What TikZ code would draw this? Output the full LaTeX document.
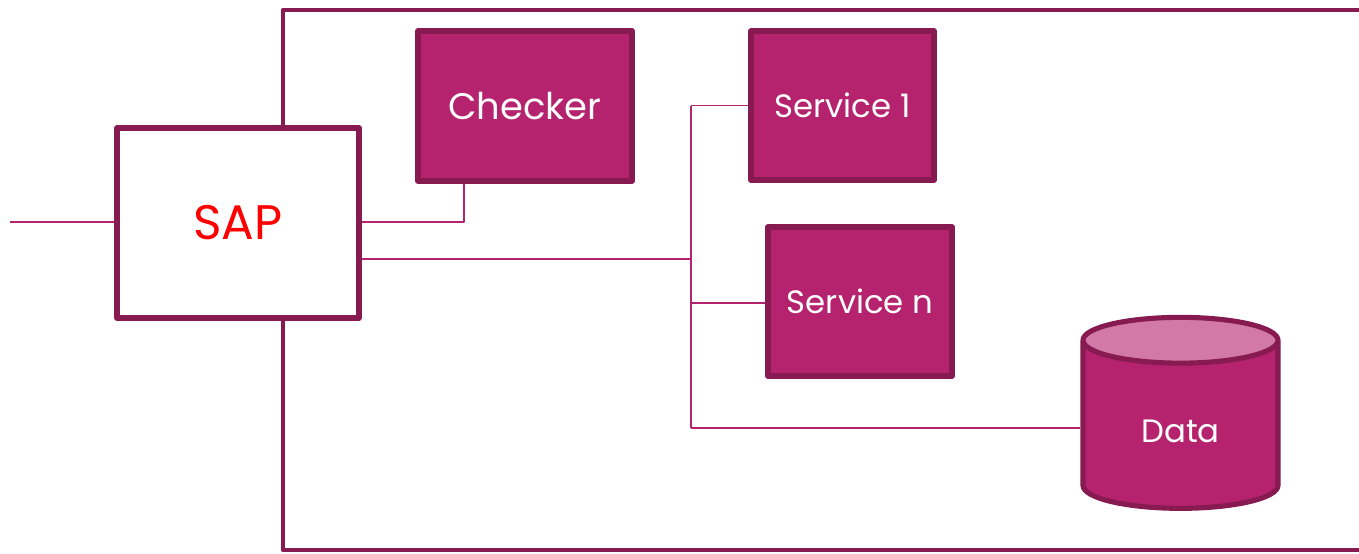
\documentclass[tikz,border=0pt]{standalone}
\usepackage{fontspec}
\setmainfont{Poppins}
\definecolor{myplum}{RGB}{134,26,81}
\definecolor{mymagenta}{RGB}{181,35,111}
\definecolor{mypink}{RGB}{210,121,168}
\usetikzlibrary{positioning, calc, shapes.geometric}
\tikzset{
    box/.style={
           rectangle,
           draw=myplum, line width=1.45pt,
           fill=mymagenta,
           text=white,
           inner sep=2pt,
           text centered,
           },
    wire/.style={draw=mymagenta, line width=0.55pt},
}
\newcommand{\lbl}[1]{\fontsize{9.2}{11}\selectfont #1}

\begin{document}
\begin{tikzpicture}[line join=round]
  \useasboundingbox (0,0) rectangle (13.59,-5.53);
  % outer frame
  \draw[myplum, line width=1.3pt] (14,-0.10) -| (2.83,-5.50) -- (14,-5.50);
  \node[box, fill=white, text=red, minimum width=2.42cm, minimum height=1.90cm]
                                   (sap)      at (2.38,-2.23) {\fontsize{13.8}{16}\selectfont SAP};
  \node[box, minimum width=2.14cm, minimum height=1.50cm]
                                   (checker)  at (5.25,-1.06) {\fontsize{10.5}{12}\selectfont Checker};
  \node[box, minimum width=1.83cm, minimum height=1.49cm]
                                   (service1) at (8.425,-1.055) {\lbl{Service 1}};
  \node[box, minimum width=1.84cm, minimum height=1.49cm]
                                   (servicen) at (8.60,-3.015) {\lbl{Service n}};
  \node[cylinder, shape border rotate=90, aspect=0.45, draw=myplum, line width=1.45pt,
        cylinder uses custom fill, cylinder body fill=mymagenta, cylinder end fill=mypink,
        text=white, minimum width=1.95cm, minimum height=1.91cm]
                                   (data)     at (11.805,-4.31) {\fontsize{9.2}{11}\selectfont Data};
  \coordinate (inp) at (0.10,-2.22);
  \coordinate (tap) at (4.64,-2.22);
  \coordinate (bus) at (6.91,-2.59);
  \draw[wire] (inp) -- (inp -| sap.west);
  \draw[wire] (tap -| sap.east) -- (tap) -- (tap |- checker.south);
  \draw[wire] (bus -| sap.east) -- (bus);
  \draw[wire] (bus |- service1.west) -- (bus |- 0,-4.28);
  \draw[wire] (bus |- service1.west) -- (service1.west);
  \draw[wire] (bus |- 0,-3.03) -- (servicen.west |- 0,-3.03);
  \draw[wire] (bus |- 0,-4.28) -- (data.west |- 0,-4.28);
\end{tikzpicture}
\end{document}
